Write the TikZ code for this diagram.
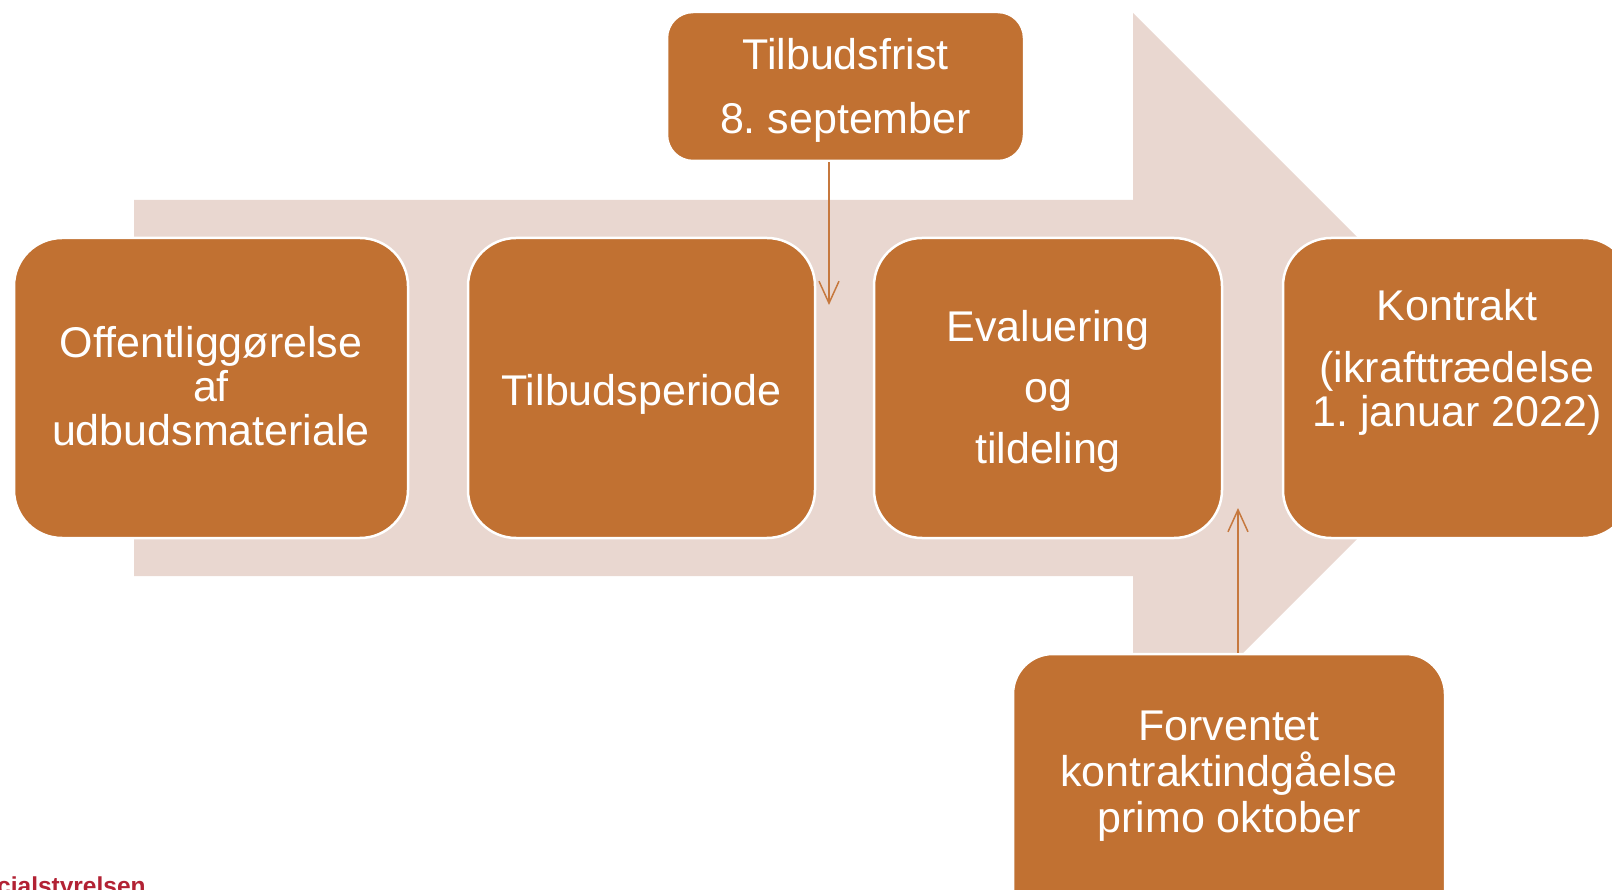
\documentclass[tikz,border=0pt]{standalone}
\usepackage{fontspec}
\setmainfont{Liberation Sans}
\usetikzlibrary{arrows.meta}
\frenchspacing
\definecolor{boxfill}{RGB}{193,113,50}
\definecolor{arrowbg}{RGB}{233,215,208}
\definecolor{linkcol}{RGB}{198,120,62}
\definecolor{logored}{RGB}{178,34,52}
\tikzset{
  stagebox/.style={draw=white, line width=2.5pt, fill=boxfill, rounded corners=48pt, inner sep=0pt, minimum height=300pt},
  notebox/.style={draw=white, line width=2.5pt, fill=boxfill, inner sep=0pt},
  lbl/.style={text=white, align=center, inner sep=0pt, font=\fontsize{43}{44}\selectfont},
  link/.style={draw=linkcol, line width=1.5pt, -{Straight Barb[length=22pt,width=20pt,line width=1.5pt]}},
}
\begin{document}
\begin{tikzpicture}[x=1pt,y=-1pt]
\useasboundingbox (0,0) rectangle (1612,890);
\clip (0,0) rectangle (1612,890);
% background arrow
\fill[arrowbg] (134,200) -- (1133,200) -- (1133,13) -- (1508,388) -- (1133,763) -- (1133,576) -- (134,576) -- cycle;
% stage boxes
\node[stagebox, minimum width=394pt] (b1) at (211,388) {};
\node[stagebox, minimum width=347pt] (b2) at (641.5,388) {};
\node[stagebox, minimum width=348pt] (b3) at (1048,388) {};
\node[stagebox, minimum width=348pt] (b4) at (1457,388) {};
% note boxes
\node[notebox, rounded corners=26pt, minimum width=357pt, minimum height=149pt] (top) at (845.5,86.5) {};
\node[notebox, rounded corners=40pt, minimum width=432pt, minimum height=280pt] (bot) at (1229,794) {};
% texts
\node[lbl] (t1) at (211,386) {Offentliggørelse\\af\\udbudsmateriale};
\node[lbl] (t2) at (641.5,394) {Tilbudsperiode};
\node[lbl] (t3) at (1048,391) {Evaluering\\[17pt]og\\[17pt]tildeling};
\node[lbl] (t4) at (1457,362) {Kontrakt\\[18pt](ikrafttrædelse\\1. januar 2022)};
\node[lbl] (t5) at (845.5,90) {Tilbudsfrist\\[20pt]8. september};
\node[lbl, font=\fontsize{43}{46}\selectfont] (t6) at (1229,776) {Forventet\\kontraktindgåelse\\primo oktober};
% connectors
\coordinate (downtip) at (829,305);
\coordinate (uptip) at (1238,508);
\draw[link] (top.south -| downtip) -- (downtip);
\draw[link] (bot.north -| uptip) -- (uptip);
% logo text
\node[anchor=base west, inner sep=0pt, text=logored, font=\fontsize{24.5}{24.5}\selectfont\bfseries] (logo) at (-3,894) {cialstyrelsen};
\end{tikzpicture}
\end{document}
